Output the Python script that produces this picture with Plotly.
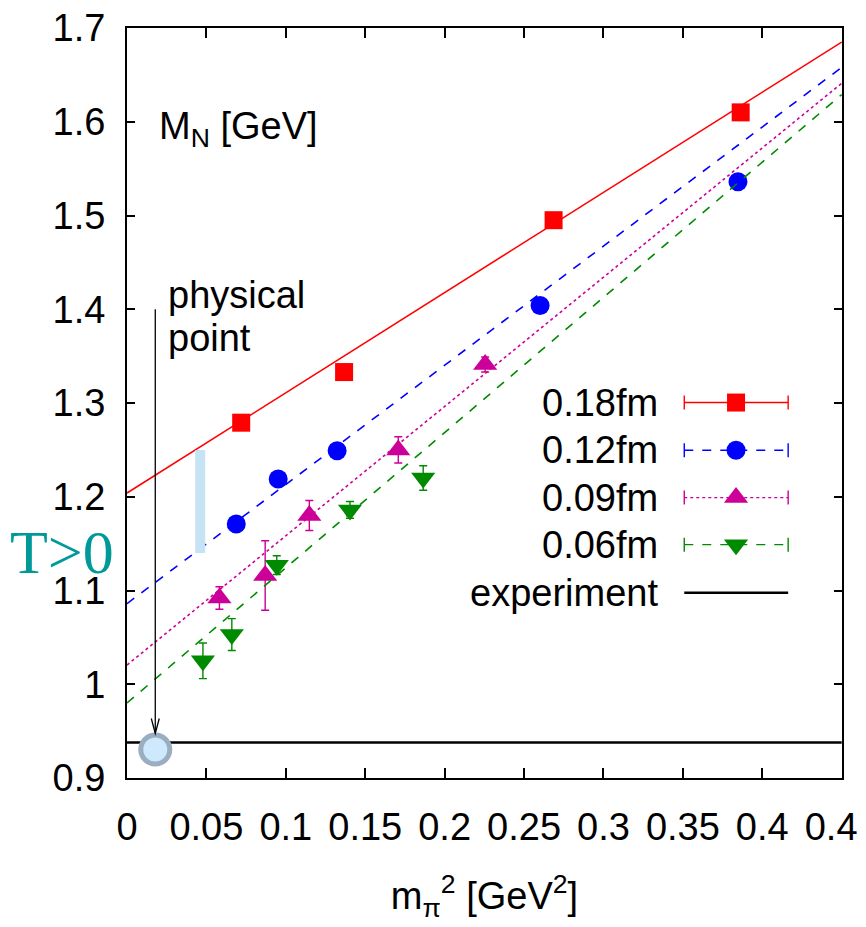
import plotly.graph_objects as go

# lattice spacings and fit results
spacings = ['0.18fm', '0.12fm', '0.09fm', '0.06fm']
colors = ['#ff0000', '#0000ff', '#cc0099', '#008a00']
symbols = ['square', 'circle', 'triangle-up', 'triangle-down']
sizes = [18, 19, 21, 21]
fit_dash = ['solid', 'dash', 'dot', 'dash']

# m_pi^2 [GeV^2]
mpi2_018 = [0.0719, 0.1367, 0.2686, 0.3864]
mpi2_012 = [0.0688, 0.0952, 0.1323, 0.2601, 0.3847]
mpi2_009 = [0.0582, 0.0870, 0.1148, 0.1708, 0.2255]
mpi2_006 = [0.0478, 0.0660, 0.0943, 0.1404, 0.1865]

# M_N [GeV]
mn_018 = [1.279, 1.333, 1.495, 1.610]
mn_012 = [1.171, 1.219, 1.249, 1.404, 1.536]
mn_009 = [1.092, 1.116, 1.180, 1.250, 1.341]
mn_006 = [1.025, 1.053, 1.127, 1.186, 1.220]

err_018 = [0.005, 0.005, 0.005, 0.005]
err_012 = [0.004, 0.004, 0.004, 0.005, 0.005]
err_009 = [0.012, 0.037, 0.016, 0.014, 0.008]
err_006 = [0.019, 0.017, 0.010, 0.009, 0.013]

# linear fits: value at m_pi^2 = 0 and at 0.45
fit_x = [0.0, 0.45]
fit_018 = [1.204, 1.685]
fit_012 = [1.086, 1.658]
fit_009 = [1.0205, 1.641]
fit_006 = [0.980, 1.629]

experiment_mn = 0.938
physical_mpi2 = 0.0178
physical_mn = 0.9305
band_x = 0.0461
band_mn = [1.140, 1.250]

x_ticks = [0, 0.05, 0.1, 0.15, 0.2, 0.25, 0.3, 0.35, 0.4, 0.45]
x_ticklabels = ['0', '0.05', '0.1', '0.15', '0.2', '0.25', '0.3', '0.35', '0.4', '0.45']
y_ticks = [0.9, 1.0, 1.1, 1.2, 1.3, 1.4, 1.5, 1.6, 1.7]
y_ticklabels = ['0.9', '1', '1.1', '1.2', '1.3', '1.4', '1.5', '1.6', '1.7']

xs = [mpi2_018, mpi2_012, mpi2_009, mpi2_006]
ys = [mn_018, mn_012, mn_009, mn_006]
es = [err_018, err_012, err_009, err_006]
fits = [fit_018, fit_012, fit_009, fit_006]

FONT = 'Liberation Sans, Arial, sans-serif'
FS = 38

fig = go.Figure()

for i in range(4):
    fig.add_trace(go.Scatter(x=fit_x, y=fits[i], mode='lines',
                             line=dict(color=colors[i], width=1.6, dash=fit_dash[i]),
                             hoverinfo='skip'))
    fig.add_trace(go.Scatter(x=xs[i], y=ys[i], mode='markers',
                             marker=dict(symbol=symbols[i], size=sizes[i], color=colors[i]),
                             error_y=dict(type='data', array=es[i], color=colors[i],
                                          thickness=1.4, width=4)))

# experiment line
fig.add_trace(go.Scatter(x=fit_x, y=[experiment_mn, experiment_mn], mode='lines',
                         line=dict(color='black', width=2.5)))

# light blue band (T>0)
fig.add_trace(go.Scatter(x=[band_x, band_x], y=band_mn, mode='lines',
                         line=dict(color='#c6e3f6', width=10)))

# physical point arrow
fig.add_trace(go.Scatter(x=[physical_mpi2, physical_mpi2], y=[1.40, 0.9476], mode='lines',
                         line=dict(color='black', width=1.3)))
fig.add_shape(type='path',
              path='M %f,%f L %f,%f L %f,%f' % (physical_mpi2 - 0.0025, 0.9635,
                                                 physical_mpi2, 0.9476,
                                                 physical_mpi2 + 0.0025, 0.9635),
              line=dict(color='black', width=1.3))

# physical point marker
fig.add_trace(go.Scatter(x=[physical_mpi2], y=[physical_mn], mode='markers',
                         marker=dict(symbol='circle', size=29, color='#cde9fb',
                                     line=dict(color='#9aaebf', width=5)),
                         cliponaxis=False))

# hand made legend on an overlay axis (0..1 coords of the plot area)
leg_rows = [0.5006, 0.4371, 0.3739, 0.3111, 0.2471]
leg_x0, leg_x1, leg_xm = 0.7794, 0.9247, 0.8518
for i in range(4):
    fig.add_trace(go.Scatter(x=[leg_x0, leg_x1], y=[leg_rows[i]] * 2, mode='lines+markers',
                             line=dict(color=colors[i], width=1.4, dash=fit_dash[i]),
                             marker=dict(symbol='line-ns', size=10,
                                         line=dict(color=colors[i], width=1.4)),
                             xaxis='x2', yaxis='y2'))
    fig.add_trace(go.Scatter(x=[leg_xm], y=[leg_rows[i]], mode='markers',
                             marker=dict(symbol=symbols[i], size=sizes[i], color=colors[i]),
                             xaxis='x2', yaxis='y2'))
fig.add_trace(go.Scatter(x=[leg_x0, leg_x1], y=[leg_rows[4]] * 2, mode='lines',
                         line=dict(color='black', width=2.5), xaxis='x2', yaxis='y2'))

leg_labels = spacings + ['experiment']
for lab, yy in zip(leg_labels, leg_rows):
    fig.add_annotation(text=lab, x=0.7457, y=yy, xref='paper', yref='paper',
                       xanchor='right', yanchor='middle', showarrow=False,
                       font=dict(size=FS, family=FONT, color='black'))

fig.add_annotation(text='M<sub>N</sub> [GeV]', x=0.0424, y=0.866, xref='paper', yref='paper',
                   xanchor='left', yanchor='middle', showarrow=False,
                   font=dict(size=FS, family=FONT, color='black'))
fig.add_annotation(text='physical', x=0.0549, y=0.6443, xref='paper', yref='paper',
                   xanchor='left', yanchor='middle', showarrow=False,
                   font=dict(size=FS, family=FONT, color='black'))
fig.add_annotation(text='point', x=0.0549, y=0.5869, xref='paper', yref='paper',
                   xanchor='left', yanchor='middle', showarrow=False,
                   font=dict(size=FS, family=FONT, color='black'))
fig.add_annotation(text='T&gt;0', x=-0.0905, y=0.3015, xref='paper', yref='paper',
                   xanchor='center', yanchor='middle', showarrow=False,
                   font=dict(size=62, family='Liberation Serif, serif', color='#009999'))

axis_common = dict(showline=True, linecolor='black', linewidth=2, mirror='allticks',
                   ticks='inside', tickcolor='black', tickwidth=1.5, showgrid=False,
                   zeroline=False, automargin=False, ticklabeloverflow='allow',
                   tickfont=dict(size=FS, family=FONT, color='black'))

fig.update_layout(
    width=866, height=927,
    margin=dict(l=119, r=32, t=20, b=157),
    plot_bgcolor='white', paper_bgcolor='white',
    showlegend=False,
    xaxis=dict(range=[0, 0.4502], tickvals=x_ticks, ticktext=x_ticklabels, ticklen=10,
               title=dict(text='m<sub>π</sub><sup>2</sup> [GeV<sup>2</sup>]',
                          font=dict(size=FS, family=FONT, color='black'), standoff=36),
               ticklabelstandoff=14, **axis_common),
    yaxis=dict(range=[0.9, 1.7], tickvals=y_ticks, ticktext=y_ticklabels, ticklen=8,
               ticklabelstandoff=12, **axis_common),
    xaxis2=dict(range=[0, 1], overlaying='x', visible=False),
    yaxis2=dict(range=[0, 1], overlaying='y', visible=False),
)

fig.write_html('out.html')
